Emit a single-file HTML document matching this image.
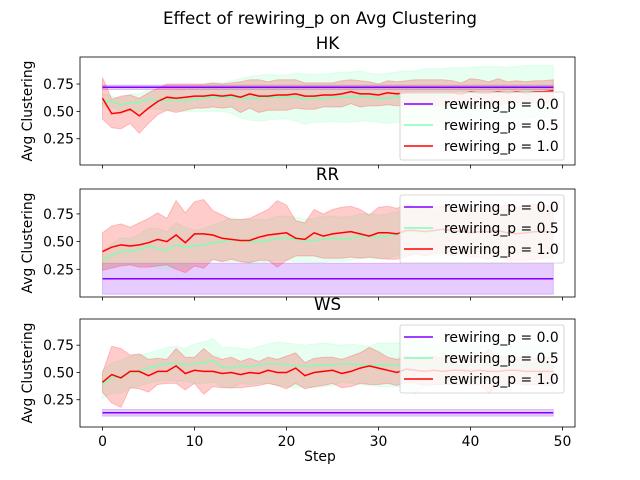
<!DOCTYPE html>
<html><head><meta charset="utf-8"><style>
body{margin:0;background:#fff}
svg{display:block;font-family:"DejaVu Sans","Liberation Sans",sans-serif}
</style></head><body>
<svg id="chart" width="640" height="480" viewBox="0 0 640 480">
<rect width="640" height="480" fill="#fff"/>
<text x="320" y="24" text-anchor="middle" font-size="16.7">Effect of rewiring_p on  Avg Clustering</text>
</svg>
<script>
const steps = Array.from({length:50},(_, i)=>i);
const xTicks = [0,10,20,30,40,50];
const yTicks = [0.25,0.5,0.75];
const panelNames = ["HK","RR","WS"];
const pLabels = ["rewiring_p = 0.0","rewiring_p = 0.5","rewiring_p = 1.0"];
// HK
const hkMean0 = Array(50).fill(0.72);
const hkStd0 = Array(50).fill(0.02);
const hkMean5 = [0.60,0.59,0.56,0.58,0.58,0.61,0.60,0.60,0.60,0.60,0.61,0.62,0.63,0.63,0.63,0.62,0.62,0.62,0.63,0.63,0.63,0.63,0.61,0.62,0.62,0.63,0.63,0.63,0.64,0.63,0.62,0.62,0.63,0.64,0.64,0.65,0.65,0.65,0.66,0.66,0.66,0.67,0.67,0.67,0.67,0.67,0.68,0.68,0.68,0.68];
const hkStd5 = [0.06,0.05,0.06,0.08,0.08,0.09,0.08,0.09,0.09,0.10,0.11,0.12,0.13,0.13,0.15,0.18,0.20,0.21,0.21,0.20,0.20,0.22,0.23,0.22,0.22,0.22,0.23,0.23,0.23,0.22,0.22,0.23,0.23,0.23,0.23,0.24,0.24,0.24,0.24,0.24,0.24,0.24,0.24,0.24,0.23,0.24,0.24,0.24,0.24,0.24];
const hkMean10 = [0.62,0.48,0.49,0.52,0.46,0.53,0.59,0.63,0.62,0.63,0.64,0.64,0.65,0.64,0.65,0.63,0.66,0.64,0.64,0.65,0.65,0.66,0.64,0.64,0.65,0.65,0.66,0.68,0.66,0.66,0.65,0.67,0.66,0.67,0.67,0.67,0.67,0.67,0.67,0.66,0.68,0.67,0.67,0.68,0.67,0.68,0.67,0.68,0.68,0.69];
const hkStd10 = [0.19,0.13,0.15,0.13,0.16,0.14,0.12,0.12,0.13,0.12,0.11,0.11,0.11,0.11,0.11,0.14,0.13,0.15,0.13,0.14,0.14,0.13,0.12,0.12,0.11,0.11,0.12,0.11,0.12,0.11,0.10,0.11,0.11,0.11,0.12,0.12,0.12,0.12,0.11,0.10,0.12,0.12,0.10,0.12,0.10,0.10,0.10,0.10,0.10,0.10];
// RR
const rrMean0 = Array(50).fill(0.165);
const rrStd0 = Array(50).fill(0.14);
const rrMean5 = [0.33,0.38,0.41,0.41,0.43,0.46,0.44,0.42,0.47,0.45,0.46,0.47,0.49,0.50,0.52,0.51,0.50,0.50,0.51,0.53,0.53,0.52,0.51,0.51,0.52,0.53,0.52,0.53,0.55,0.55,0.54,0.55,0.57,0.58,0.58,0.58,0.57,0.58,0.58,0.58,0.59,0.58,0.58,0.59,0.59,0.60,0.59,0.60,0.60,0.60];
const rrStd5 = [0.08,0.10,0.12,0.12,0.14,0.16,0.18,0.17,0.20,0.18,0.14,0.15,0.16,0.18,0.20,0.19,0.20,0.20,0.19,0.20,0.20,0.20,0.19,0.20,0.21,0.20,0.20,0.20,0.20,0.20,0.20,0.20,0.20,0.20,0.20,0.20,0.20,0.20,0.20,0.20,0.20,0.20,0.20,0.20,0.20,0.20,0.20,0.20,0.20,0.20];
const rrMean10 = [0.41,0.45,0.47,0.46,0.47,0.49,0.52,0.50,0.56,0.49,0.57,0.57,0.56,0.53,0.52,0.51,0.51,0.54,0.56,0.57,0.58,0.53,0.52,0.58,0.55,0.57,0.58,0.59,0.57,0.55,0.58,0.58,0.57,0.60,0.60,0.59,0.60,0.61,0.60,0.59,0.58,0.59,0.59,0.60,0.58,0.57,0.58,0.59,0.59,0.59];
const rrStd10 = [0.17,0.19,0.19,0.17,0.20,0.22,0.24,0.21,0.31,0.27,0.29,0.31,0.22,0.21,0.18,0.19,0.20,0.21,0.23,0.30,0.25,0.16,0.15,0.21,0.20,0.22,0.23,0.23,0.22,0.19,0.23,0.24,0.23,0.24,0.21,0.22,0.21,0.21,0.23,0.20,0.22,0.23,0.25,0.22,0.25,0.24,0.25,0.25,0.24,0.24];
// WS
const wsMean0 = Array(50).fill(0.13);
const wsStd0 = Array(50).fill(0.03);
const wsMean5 = [0.39,0.45,0.46,0.50,0.52,0.54,0.56,0.58,0.58,0.57,0.58,0.59,0.61,0.55,0.54,0.56,0.55,0.57,0.58,0.58,0.57,0.56,0.56,0.56,0.57,0.57,0.58,0.58,0.57,0.56,0.57,0.57,0.57,0.57,0.57,0.57,0.57,0.57,0.57,0.57,0.57,0.57,0.57,0.57,0.57,0.57,0.57,0.57,0.57,0.57];
const wsStd5 = [0.13,0.14,0.15,0.15,0.14,0.14,0.14,0.15,0.16,0.15,0.18,0.19,0.20,0.18,0.19,0.16,0.16,0.17,0.18,0.20,0.20,0.20,0.19,0.20,0.20,0.19,0.17,0.18,0.18,0.18,0.20,0.20,0.20,0.20,0.27,0.20,0.18,0.18,0.18,0.18,0.18,0.18,0.18,0.18,0.18,0.18,0.18,0.18,0.18,0.18];
const wsMean10 = [0.41,0.48,0.45,0.51,0.51,0.47,0.51,0.51,0.56,0.49,0.52,0.51,0.51,0.49,0.50,0.48,0.50,0.49,0.52,0.50,0.50,0.54,0.47,0.50,0.51,0.52,0.49,0.51,0.54,0.56,0.54,0.52,0.50,0.53,0.52,0.51,0.52,0.51,0.52,0.52,0.51,0.52,0.51,0.51,0.52,0.52,0.51,0.51,0.51,0.51];
const wsStd10 = [0.09,0.26,0.27,0.15,0.16,0.15,0.12,0.11,0.16,0.15,0.12,0.21,0.14,0.13,0.14,0.12,0.13,0.11,0.12,0.12,0.15,0.14,0.12,0.13,0.13,0.12,0.13,0.14,0.14,0.17,0.15,0.12,0.12,0.12,0.12,0.13,0.13,0.12,0.13,0.13,0.13,0.13,0.20,0.13,0.13,0.12,0.13,0.12,0.13,0.13];

const means = [[hkMean0,hkMean5,hkMean10],[rrMean0,rrMean5,rrMean10],[wsMean0,wsMean5,wsMean10]];
const stds = [[hkStd0,hkStd5,hkStd10],[rrStd0,rrStd5,rrStd10],[wsStd0,wsStd5,wsStd10]];
const colors = ["#8000ff","#80ffb4","#ff0000"];
const panels = [{top:57,bot:165,ymin:0.01,ymax:0.997,legY:92,titleY:49},{top:189,bot:297,ymin:0.0,ymax:0.975,legY:195,titleY:180},{top:319,bot:427,ymin:0.0,ymax:0.99,legY:325,titleY:310}];
const L=80,R=575;
const xs = v => 102.5 + (v-0)*(562.5-102.5)/50;
const NS="http://www.w3.org/2000/svg";
const svg=document.getElementById('chart');
function mk(tag,attrs,parent){const e=document.createElementNS(NS,tag);for(const k in attrs)e.setAttribute(k,attrs[k]);(parent||svg).appendChild(e);return e;}

panels.forEach((p,pi)=>{
  const ys = v => p.bot - (v-p.ymin)*(p.bot-p.top)/(p.ymax-p.ymin);
  const g=mk('g',{});
  
  
  const t=mk('text',{x:(L+R)/2,y:p.titleY,'text-anchor':'middle','font-size':'16.7'},g);
  t.textContent=panelNames[pi];
  
  
  for(let s=0;s<3;s++){
    const m=means[pi][s], sd=stds[pi][s];
    let d='';
    steps.forEach((x,i)=>{d+=(i?'L':'M')+xs(x).toFixed(1)+','+ys(m[i]+sd[i]).toFixed(1);});
    for(let i=steps.length-1;i>=0;i--) d+='L'+xs(steps[i]).toFixed(1)+','+ys(m[i]-sd[i]).toFixed(1);
    const band=mk('path',{d:d+'Z',fill:colors[s],'fill-opacity':0.2,stroke:colors[s],'stroke-opacity':0.2},g);
    
    
  }
  for(let s=0;s<3;s++){
    const m=means[pi][s];
    const pts=steps.map((x,i)=>xs(x).toFixed(1)+','+ys(m[i]).toFixed(1)).join(' ');
    const ln=mk('polyline',{points:pts,fill:'none',stroke:colors[s],'stroke-width':1.5},g);
    
    
  }
  const fr=mk('rect',{x:L,y:p.top,width:R-L,height:p.bot-p.top,fill:'none',stroke:'#000','stroke-width':0.8},g);
  
  
  yTicks.forEach(v=>{
    const y=ys(v);
    mk('line',{x1:L-3.5,x2:L,y1:y,y2:y,stroke:'#000','stroke-width':0.8},g);
    const tl=mk('text',{x:L-6,y:y+5,'text-anchor':'end','font-size':'13.9'},g);
    tl.textContent=v.toFixed(2);
    
    
  });
  xTicks.forEach(v=>{
    const x=xs(v);
    mk('line',{x1:x,x2:x,y1:p.bot,y2:p.bot+3.5,stroke:'#000','stroke-width':0.8},g);
    if(pi===2){
      const tl=mk('text',{x:x,y:p.bot+19,'text-anchor':'middle','font-size':'13.9'},g);
      tl.textContent=v;
      
      
    }
  });
  const yl=mk('text',{x:0,y:0,transform:`translate(32,${(p.top+p.bot)/2}) rotate(-90)`,'text-anchor':'middle','font-size':'13.9'},g);
  yl.textContent='Avg Clustering';
  
  
  const lg=mk('g',{},g);
  
  
  mk('rect',{x:400,y:p.legY,width:164,height:68,rx:2,fill:'#fff','fill-opacity':0.8,stroke:'#ccc','stroke-width':0.8},lg);
  for(let s=0;s<3;s++){
    const yy=p.legY+12+s*21;
    const le=mk('g',{},lg);
    
    
    mk('line',{x1:404,x2:433,y1:yy,y2:yy,stroke:colors[s],'stroke-width':1.5},le);
    const lt=mk('text',{x:444,y:yy+5,'font-size':'13.9'},le);
    lt.textContent=pLabels[s];
  }
});
const xt=mk('text',{x:320,y:461,'text-anchor':'middle','font-size':'13.9'});
xt.textContent='Step';


</script>
</body></html>
